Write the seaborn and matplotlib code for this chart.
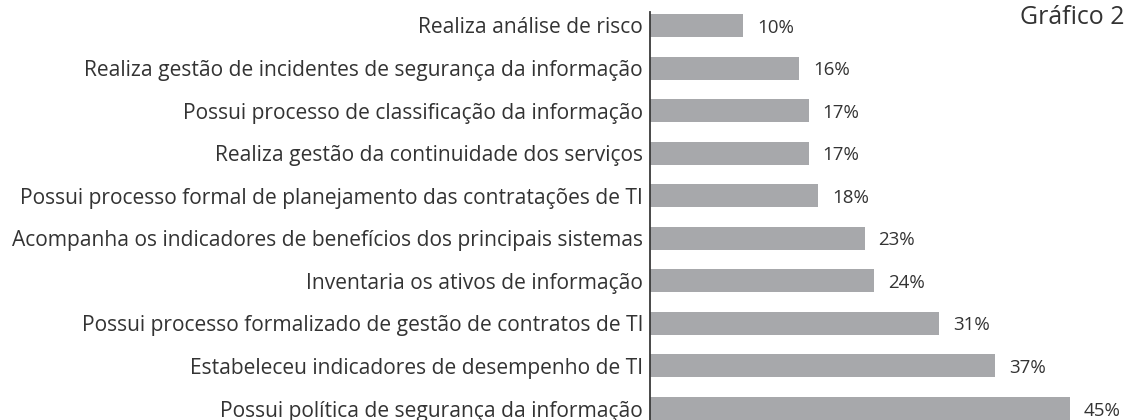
import matplotlib
matplotlib.use("Agg")
import matplotlib.pyplot as plt
import seaborn as sns
import pandas as pd

categories = [
    "Realiza análise de risco",
    "Realiza gestão de incidentes de segurança da informação",
    "Possui processo de classificação da informação",
    "Realiza gestão da continuidade dos serviços",
    "Possui processo formal de planejamento das contratações de TI",
    "Acompanha os indicadores de benefícios dos principais sistemas",
    "Inventaria os ativos de informação",
    "Possui processo formalizado de gestão de contratos de TI",
    "Estabeleceu indicadores de desempenho de TI",
    "Possui política de segurança da informação",
]
values = [10, 16, 17, 17, 18, 23, 24, 31, 37, 45]
value_labels = [f"{v}%" for v in values]
title = "Gráfico 2"

sns.set_style("white")
plt.rcParams["font.family"] = ["Open Sans", "DejaVu Sans"]

df = pd.DataFrame({"cat": categories, "val": values})

W, H = 1131, 420
fig = plt.figure(figsize=(W / 100, H / 100), dpi=100)
ax = fig.add_axes([650 / W, 0, (W - 650) / W, (H - 12) / H])

sns.barplot(data=df, x="val", y="cat", orient="h", color="#A7A8AB",
            saturation=1, width=0.54, linewidth=0, ax=ax)

ax.set_xlim(0, (W - 650) / 9.33)
ax.set_ylim(9.27, -0.317)
for s in ["top", "right", "bottom"]:
    ax.spines[s].set_visible(False)
ax.spines["left"].set_color("#3a3a3a")
ax.spines["left"].set_linewidth(1.3)
ax.set_xlabel("")
ax.set_ylabel("")
ax.tick_params(left=False, bottom=False, labelbottom=False, length=0, pad=5)
for t in ax.get_yticklabels():
    t.set_fontsize(15.1)
    t.set_color("#333333")

texts = ax.bar_label(ax.containers[0], labels=value_labels, padding=10,
                     fontsize=13.5, color="#333333")
for t in texts:
    t.xyann = (10, -1.5)

fig.text(1124 / W, 1 - 5 / H, title, ha="right", va="top",
         fontsize=17.9, color="#333333")

fig.savefig("out.png", dpi=100)
